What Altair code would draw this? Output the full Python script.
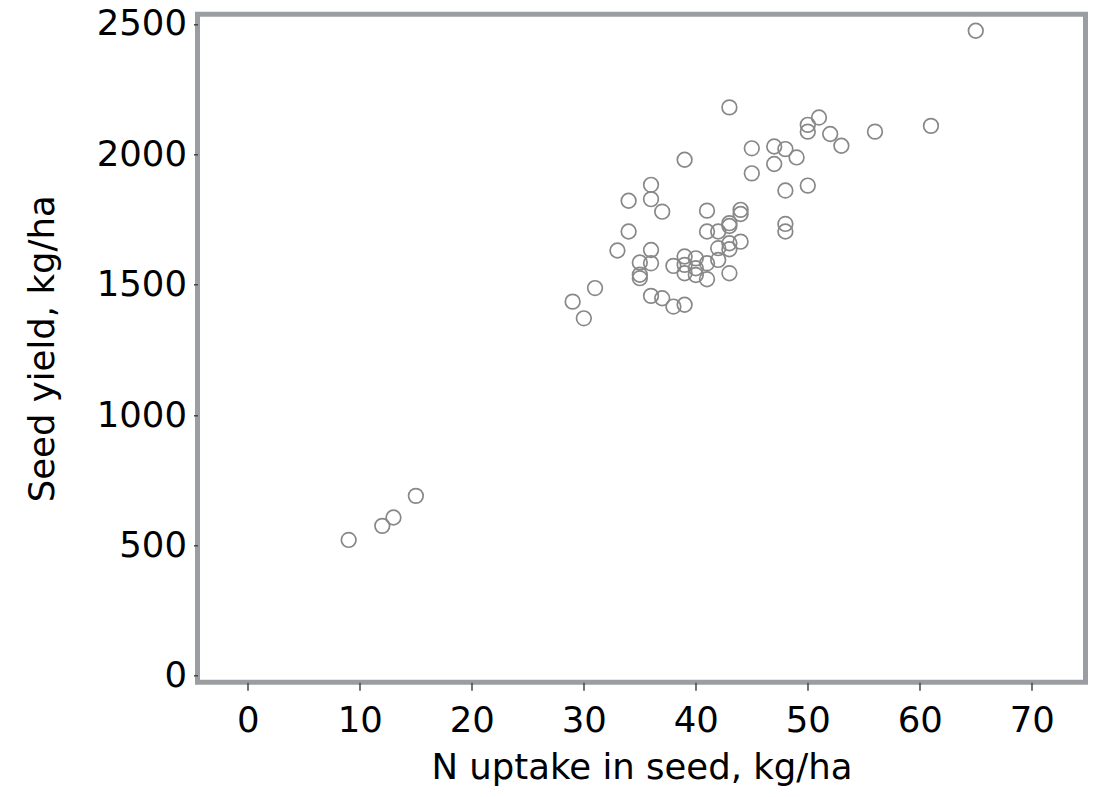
import altair as alt
import pandas as pd

n_uptake = [9, 12, 13, 15,
            29, 30, 31, 33,
            34, 34,
            35, 35, 35,
            36, 36, 36, 36, 36,
            37, 37,
            38, 38,
            39, 39, 39, 39, 39,
            40, 40, 40,
            41, 41, 41, 41,
            42, 42, 42,
            43, 43, 43, 43, 43, 43,
            44, 44, 44,
            45, 45,
            47, 47,
            48, 48, 48, 48,
            49,
            50, 50, 50,
            51, 52, 53, 56, 61, 65]
seed_yield = [521, 575, 607, 690,
              1435, 1371, 1487, 1631,
              1822, 1704,
              1585, 1538, 1525,
              1883, 1828, 1633, 1582, 1457,
              1780, 1448,
              1572, 1416,
              1979, 1608, 1576, 1544, 1423,
              1601, 1563, 1537,
              1784, 1704, 1582, 1521,
              1704, 1640, 1595,
              2180, 1736, 1725, 1659, 1636, 1544,
              1787, 1771, 1665,
              2023, 1927,
              2030, 1963,
              2020, 1861, 1733, 1704,
              1988,
              2113, 2087, 1880,
              2141, 2078, 2033, 2087, 2109, 2474]

x_ticks = [0, 10, 20, 30, 40, 50, 60, 70]
y_ticks = [0, 500, 1000, 1500, 2000, 2500]

df = pd.DataFrame({"x": n_uptake, "y": seed_yield})

FONT = "DejaVu Sans"

chart = alt.Chart(df).mark_point(
    shape="circle", filled=False, size=215, stroke="#888888", strokeWidth=1.7, opacity=1
).encode(
    x=alt.X("x:Q", scale=alt.Scale(domain=[-4.5, 74.8], nice=False, zero=False),
            axis=alt.Axis(title="N uptake in seed, kg/ha", values=x_ticks, format="d", grid=False, domain=False,
                          tickSize=8, tickColor="#444444", tickWidth=1.5,
                          labelFontSize=35.5, labelFont=FONT, labelColor="#000000", labelPadding=13,
                          titleFontSize=35.5, titleFont=FONT, titleFontWeight="normal", titleColor="#000000",
                          titlePadding=12)),
    y=alt.Y("y:Q", scale=alt.Scale(domain=[-25, 2537], nice=False, zero=False),
            axis=alt.Axis(title="Seed yield, kg/ha", values=y_ticks, format="d", grid=False, domain=False,
                          tickSize=4, tickColor="#444444", tickWidth=1.5,
                          labelFontSize=35.5, labelFont=FONT, labelColor="#000000", labelPadding=7,
                          titleFontSize=35.5, titleFont=FONT, titleFontWeight="normal", titleColor="#000000",
                          titlePadding=36)),
).properties(
    width=888, height=668,
    autosize=alt.AutoSizeParams(type="none"),
    padding={"left": 189.5, "top": 6.3, "right": 5, "bottom": 110},
    background="#ffffff",
).configure_view(
    stroke="#9a9ea2", strokeWidth=5
)

chart.save("out.html", embed_options={"renderer": "svg", "actions": False})
